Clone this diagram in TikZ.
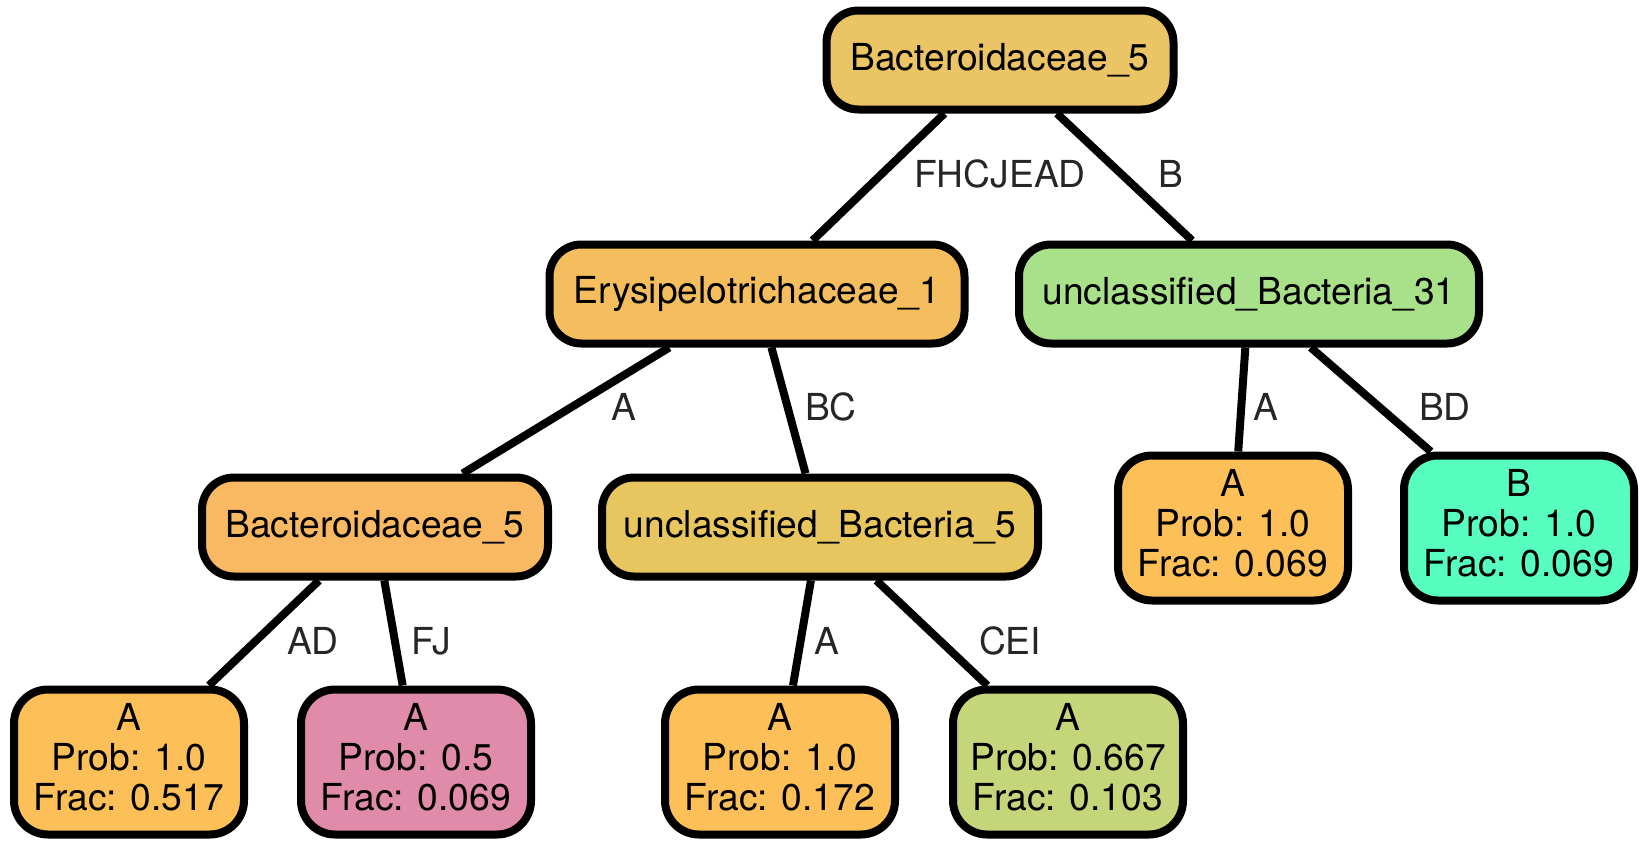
\documentclass[tikz,border=0pt]{standalone}
\usepackage{fontspec}
\setmainfont{TeX Gyre Heros}
\definecolor{rootfill}{HTML}{EBC466}
\definecolor{eryfill}{HTML}{F4BE5E}
\definecolor{bacfill}{HTML}{F9B963}
\definecolor{ub5fill}{HTML}{E8C65F}
\definecolor{ub31fill}{HTML}{A9E08A}
\definecolor{orangeleaf}{HTML}{FDBF58}
\definecolor{pinkleaf}{HTML}{E08BA9}
\definecolor{greenleaf}{HTML}{C4D57A}
\definecolor{tealleaf}{HTML}{57FEBF}
\definecolor{labelgray}{HTML}{262626}
\begin{document}
\begin{tikzpicture}[x=0.5pt,y=-0.5pt,
  every node/.style={font=\fontsize{18.6}{20}\selectfont},
  taxon/.style={draw=black, line width=4pt, rounded corners=16pt,
    minimum height=49.5pt, inner sep=0pt},
  leaf/.style={draw=black, line width=4pt, rounded corners=17pt,
    minimum width=115pt, minimum height=72.5pt, inner sep=0pt, align=center,
    text depth=5pt},
  branch/.style={line width=4pt},
  elabel/.style={text=labelgray, inner sep=0pt}]
\useasboundingbox (0,0) rectangle (1650,846);

% internal nodes
\node[taxon, fill=rootfill, minimum width=173.5pt] (root) at (1000,60) {Bacteroidaceae\_5};
\node[taxon, fill=eryfill, minimum width=207.5pt] (ery) at (757,294) {Erysipelotrichaceae\_1};
\node[taxon, fill=ub31fill, minimum width=230pt] (ub31) at (1249,294) {unclassified\_Bacteria\_31};
\node[taxon, fill=bacfill, minimum width=173pt] (bac) at (375,527) {Bacteroidaceae\_5};
\node[taxon, fill=ub5fill, minimum width=218pt] (ub5) at (820,527) {unclassified\_Bacteria\_5};

% leaves
\node[leaf, fill=orangeleaf] (l1) at (129,762) {A\\Prob: 1.0\\Frac: 0.517};
\node[leaf, fill=pinkleaf] (l2) at (416,762) {A\\Prob: 0.5\\Frac: 0.069};
\node[leaf, fill=orangeleaf] (l3) at (780,762) {A\\Prob: 1.0\\Frac: 0.172};
\node[leaf, fill=greenleaf] (l4) at (1068,762) {A\\Prob: 0.667\\Frac: 0.103};
\node[leaf, fill=orangeleaf] (l5) at (1233,528) {A\\Prob: 1.0\\Frac: 0.069};
\node[leaf, fill=tealleaf] (l6) at (1519,528) {B\\Prob: 1.0\\Frac: 0.069};

% branches
\draw[branch] (root) -- (ery);
\draw[branch] (root) -- (ub31);
\draw[branch] (ery) -- (bac);
\draw[branch] (ery) -- (ub5);
\draw[branch] (bac) -- (l1);
\draw[branch] (bac) -- (l2);
\draw[branch] (ub5) -- (l3);
\draw[branch] (ub5) -- (l4);
\draw[branch] (ub31) -- (l5);
\draw[branch] (ub31) -- (l6);

% branch labels
\node[elabel] (e1) at (1000,174) {FHCJEAD};
\node[elabel] (e2) at (1171,174) {B};
\node[elabel] (e3) at (624,407) {A};
\node[elabel] (e4) at (831,407) {BC};
\node[elabel] (e5) at (1266,407) {A};
\node[elabel] (e6) at (1445,407) {BD};
\node[elabel] (e7) at (313,641) {AD};
\node[elabel] (e8) at (431,641) {FJ};
\node[elabel] (e9) at (827,641) {A};
\node[elabel] (e10) at (1010,641) {CEI};
\end{tikzpicture}
\end{document}
